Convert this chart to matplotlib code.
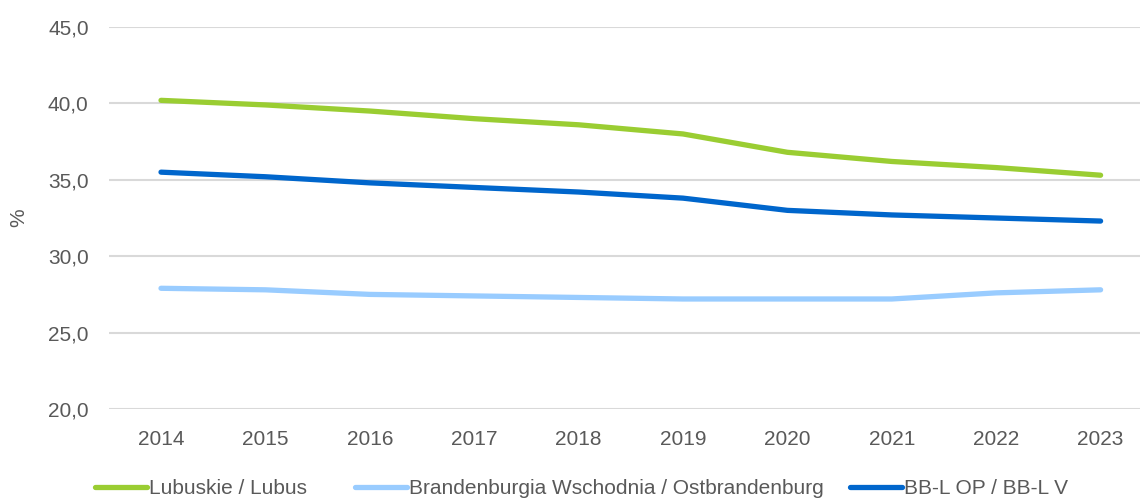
import matplotlib
matplotlib.use("Agg")
import matplotlib.pyplot as plt
from matplotlib import font_manager as fm
from matplotlib.ticker import FuncFormatter

years = ["2014", "2015", "2016", "2017", "2018", "2019", "2020", "2021", "2022", "2023"]
lubuskie = [40.2, 39.9, 39.5, 39.0, 38.6, 38.0, 36.8, 36.2, 35.8, 35.3]
brandenburgia = [27.9, 27.8, 27.5, 27.4, 27.3, 27.2, 27.2, 27.2, 27.6, 27.8]
bbl = [35.5, 35.2, 34.8, 34.5, 34.2, 33.8, 33.0, 32.7, 32.5, 32.3]
labels = ["Lubuskie / Lubus", "Brandenburgia Wschodnia / Ostbrandenburg", "BB-L OP / BB-L V"]
colors = ["#9ACD32", "#99CCFF", "#0066CC"]

names = {f.name for f in fm.fontManager.ttflist}
fam = "Liberation Sans Narrow" if "Liberation Sans Narrow" in names else "Liberation Sans"
plt.rcParams["font.family"] = [fam, "DejaVu Sans"]
fs = 16.8 if fam == "Liberation Sans Narrow" else 15
tc = "#595959"

W, H = 1140, 501
fig = plt.figure(figsize=(W / 100, H / 100), dpi=100)
left = 108.8 / W
ax = fig.add_axes([left, 1 - 409 / H, 1 - left, (409 - 27) / H])

x = list(range(len(years)))
for vals, lab, c in zip([lubuskie, brandenburgia, bbl], labels, colors):
    ax.plot(x, vals, color=c, lw=3.8, solid_capstyle="round", solid_joinstyle="round", label=lab)

ax.set_ylim(20, 45)
ax.set_yticks([20, 25, 30, 35, 40, 45])
ax.yaxis.set_major_formatter(FuncFormatter(lambda v, p: f"{v:.1f}".replace(".", ",")))
ax.set_xlim(-0.5, -0.5 + (W - 108.8) / 104.4)
ax.set_xticks(x)
ax.set_xticklabels(years)
ax.grid(axis="y", color="#d9d9d9", lw=1.5)
ax.set_axisbelow(True)
for s in ax.spines.values():
    s.set_visible(False)
ax.tick_params(length=0, labelsize=fs, colors=tc)
ax.tick_params(axis="x", pad=15)
ax.tick_params(axis="y", pad=14.5)
ax.set_ylabel("%", fontsize=fs, color=tc)
ax.yaxis.set_label_coords(-(108.8 - 28) / (W - 108.8), (409 - 218) / (409 - 27))

handles, labs = ax.get_legend_handles_labels()
starts = [95, 355, 850]
for h, l, sx in zip(handles, labs, starts):
    leg = fig.legend([h], [l], loc="center left", bbox_to_anchor=(sx / W, 1 - 489 / H),
                     frameon=False, fontsize=fs, handlelength=2.5, handletextpad=0.1,
                     borderpad=0, borderaxespad=0)
    for t in leg.get_texts():
        t.set_color(tc)

fig.savefig("out.png", dpi=100)
